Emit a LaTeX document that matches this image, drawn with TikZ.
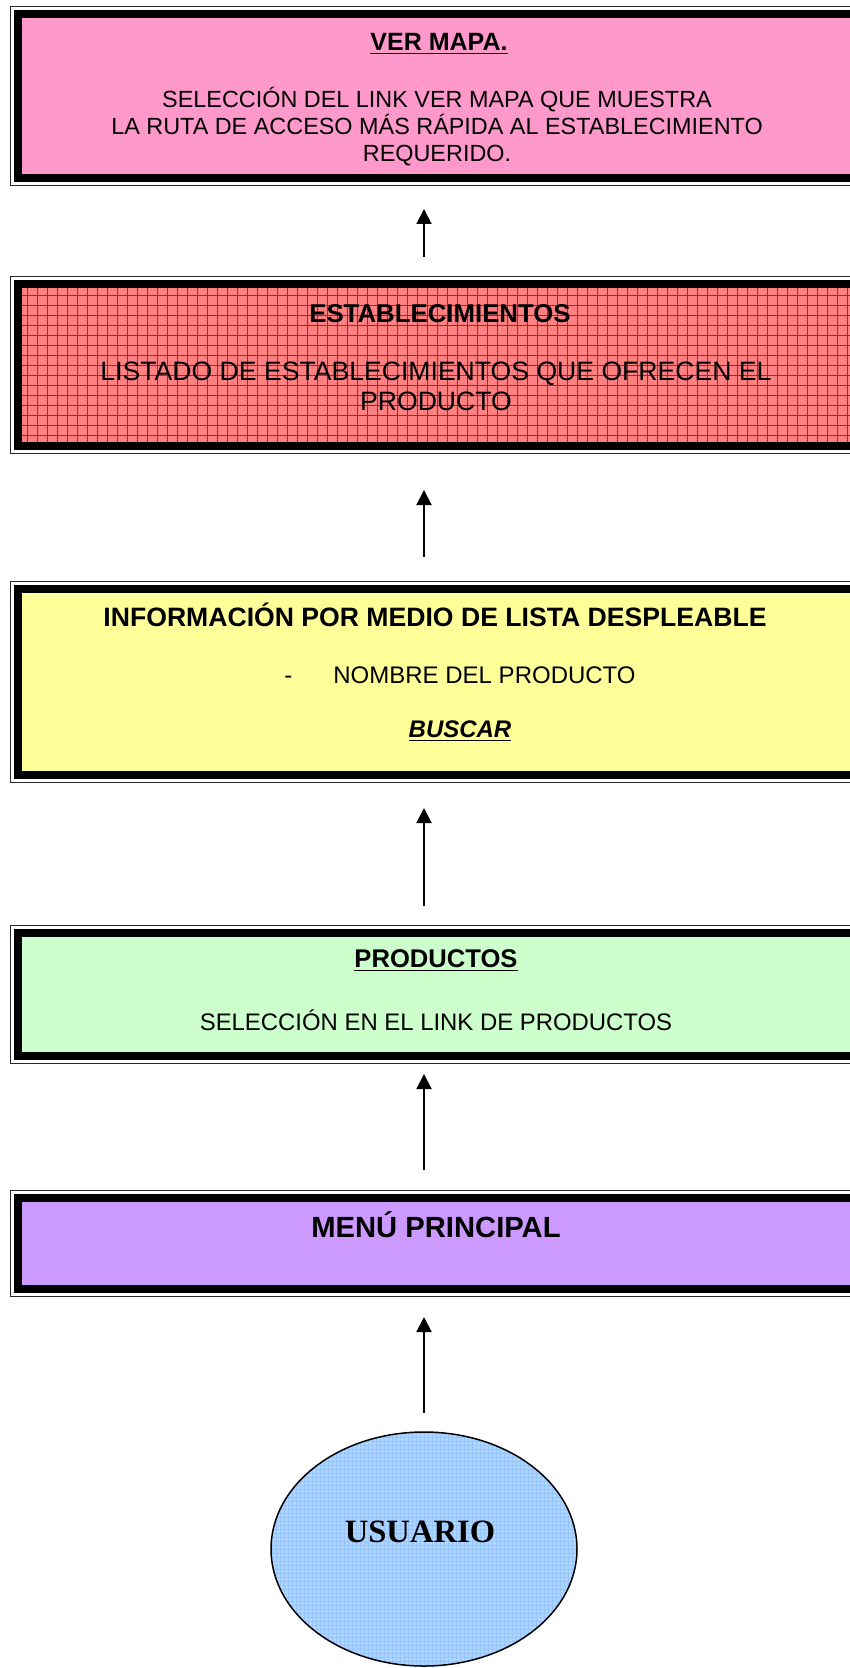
\documentclass[tikz,border=0pt]{standalone}
\usepackage{fontspec}
\setmainfont{Liberation Sans}
\newfontfamily\romana{Liberation Serif}
\usepackage{tikz}
\usetikzlibrary{positioning, calc, arrows.meta, shapes.geometric}

\definecolor{rosa}{HTML}{FF99CC}
\definecolor{rojizo}{HTML}{FF8080}
\definecolor{amarillo}{HTML}{FFFF99}
\definecolor{verde}{HTML}{CCFFCC}
\definecolor{lila}{HTML}{CC99FF}
\definecolor{celeste}{HTML}{B0D6FF}
\definecolor{celesteosc}{HTML}{96C6FF}

\begin{document}
\begin{tikzpicture}[
    x=0.5pt, y=-0.5pt,
    >={Triangle[length=7.5pt, width=7.5pt]},
    caja/.style={rectangle, draw=black, line width=3.75pt, fill=#1,
        outer sep=0pt, inner sep=0pt, minimum width=419.2pt},
    marco/.style={draw=black!85, line width=0.75pt},
    flecha/.style={->, line width=1pt},
    texto/.style={anchor=base, inner sep=0pt, align=center}
]
\useasboundingbox (0,0) rectangle (850,1668);
\clip (0,0) rectangle (850,1668);

% cajas
\node[caja=rosa, minimum height=82.2pt] (mapa) at (437,96) {};
\node[caja=rojizo, minimum height=81.2pt,
      path picture={\draw[red, line width=0.35pt] (path picture bounding box.south west) grid[step=5pt] (path picture bounding box.north east);}]
      (estab) at (437,365) {};
\node[caja=amarillo, minimum height=93.2pt] (info) at (437,682) {};
\node[caja=verde, minimum height=61.7pt] (prod) at (437,994.5) {};
\node[caja=lila, minimum height=45.7pt] (menu) at (437,1243.5) {};

% marco fino exterior
\foreach \c in {mapa, estab, info, prod, menu}
    \draw[marco] ([shift={(-7.1,-7.1)}]\c.north west) rectangle ([shift={(7.1,7.1)}]\c.south east);

% usuario
\node[ellipse, draw, line width=0.75pt, fill=celeste, outer sep=0pt, inner sep=0pt,
      minimum width=153pt, minimum height=117pt,
      path picture={\draw[celesteosc, line width=0.3pt] (path picture bounding box.south west) grid[step=2pt] (path picture bounding box.north east);}]
      (usuario) at (424,1549) {};

% textos (la base de un texto de varias lineas es su ultima linea)
\node[texto, font=\bfseries\fontsize{12.5}{14}\selectfont] (mapaT) at (439,51) {\underline{VER MAPA.}};
\node[texto, font=\fontsize{11.7}{13.5}\selectfont] (mapaD) at (437,162)
    {SELECCIÓN DEL LINK VER MAPA QUE MUESTRA\\LA RUTA DE ACCESO MÁS RÁPIDA AL ESTABLECIMIENTO\\REQUERIDO.};

\node[texto, font=\bfseries\fontsize{12.9}{15}\selectfont] (estabT) at (440,323) {ESTABLECIMIENTOS};
\node[texto, font=\fontsize{13.3}{15}\selectfont] (estabD) at (436,411)
    {LISTADO DE ESTABLECIMIENTOS QUE OFRECEN EL\\PRODUCTO};

\node[texto, font=\bfseries\fontsize{13.3}{15}\selectfont] (infoT) at (435,626) {INFORMACIÓN POR MEDIO DE LISTA DESPLEABLE};
\node[texto, anchor=base west, font=\fontsize{12}{14}\selectfont] (guion) at (284,683) {-};
\node[texto, anchor=base west, font=\fontsize{12}{14}\selectfont] (nombre) at (333,683) {NOMBRE DEL PRODUCTO};
\node[texto, font=\bfseries\itshape\fontsize{12}{14}\selectfont] (buscar) at (460,737) {\underline{BUSCAR}};

\node[texto, font=\bfseries\fontsize{12.8}{14}\selectfont] (prodT) at (436,967) {\underline{PRODUCTOS}};
\node[texto, font=\fontsize{11.95}{14}\selectfont] (prodD) at (436,1030) {SELECCIÓN EN EL LINK DE PRODUCTOS};

\node[texto, font=\bfseries\fontsize{14.6}{17}\selectfont] (menuT) at (436,1237) {MENÚ PRINCIPAL};

\node[texto, font=\romana\bfseries\fontsize{16.3}{19}\selectfont] (usuarioT) at (420,1542) {USUARIO};

% flechas
\draw[flecha, shorten <=13.4pt, shorten >=15.4pt] (usuario.north |- estab.north) -- (usuario.north |- mapa.south);
\draw[flecha, shorten <=15.9pt, shorten >=21.9pt] (usuario.north |- info.north) -- (usuario.north |- estab.south);
\draw[flecha, shorten <=13.4pt, shorten >=16.4pt] (usuario.north |- prod.north) -- (usuario.north |- info.south);
\draw[flecha, shorten <=13.9pt, shorten >=8.9pt] (usuario.north |- menu.north) -- (usuario.north |- prod.south);
\draw[flecha, shorten <=9.5pt, shorten >=13.9pt] (usuario.north) -- (usuario.north |- menu.south);

\end{tikzpicture}
\end{document}
